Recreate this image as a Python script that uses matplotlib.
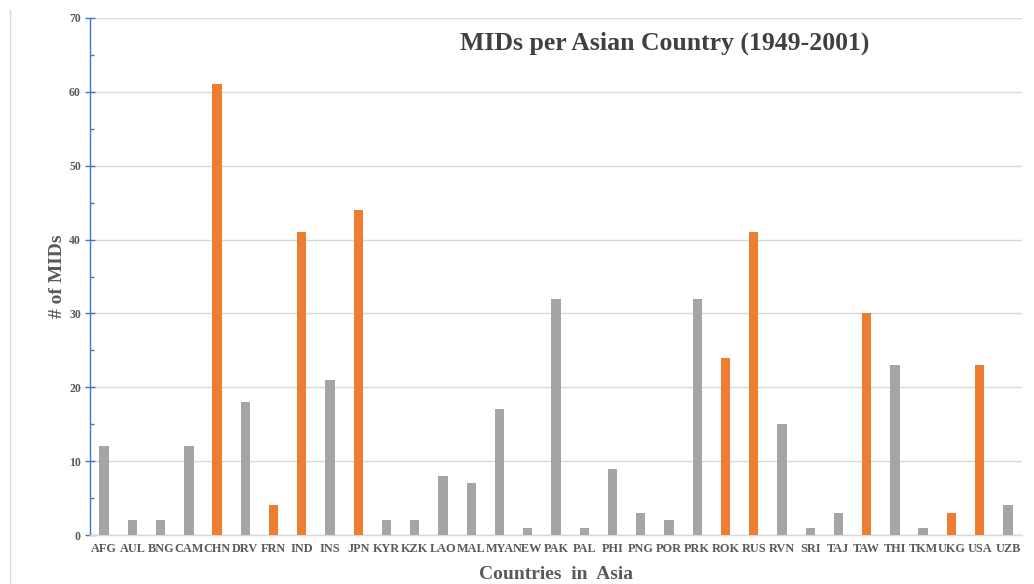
import matplotlib
matplotlib.use("Agg")
import matplotlib.pyplot as plt
from matplotlib.lines import Line2D
from matplotlib.ticker import MultipleLocator

countries = ["AFG", "AUL", "BNG", "CAM", "CHN", "DRV", "FRN", "IND", "INS", "JPN",
             "KYR", "KZK", "LAO", "MAL", "MYA", "NEW", "PAK", "PAL", "PHI", "PNG",
             "POR", "PRK", "ROK", "RUS", "RVN", "SRI", "TAJ", "TAW", "THI", "TKM",
             "UKG", "USA", "UZB"]
mids = [12, 2, 2, 12, 61, 18, 4, 41, 21, 44,
        2, 2, 8, 7, 17, 1, 32, 1, 9, 3,
        2, 32, 24, 41, 15, 1, 3, 30, 23, 1,
        3, 23, 4]
highlighted = ["CHN", "FRN", "IND", "JPN", "ROK", "RUS", "TAW", "UKG", "USA"]

GRAY = "#A5A5A5"
ORANGE = "#ED7D31"
TXT = "#595959"

plt.rcParams["font.family"] = ["Liberation Serif", "DejaVu Serif"]

fig = plt.figure(figsize=(10.34, 5.84), dpi=100)
ax = fig.add_axes([90/1034, 49/584, 932/1034, 517/584])

colors = [ORANGE if c in highlighted else GRAY for c in countries]
x = list(range(len(countries)))
ax.bar(x, mids, width=0.33, color=colors, zorder=3)

ax.set_xlim(-0.5, len(countries) - 0.5)
ax.set_ylim(0, 70)
ax.yaxis.set_major_locator(MultipleLocator(10))
ax.yaxis.set_minor_locator(MultipleLocator(5))
ax.grid(axis="y", color="#D9D9D9", linewidth=1.0, zorder=0)

for s in ["top", "right"]:
    ax.spines[s].set_visible(False)
ax.spines["left"].set_color("#4472C4")
ax.spines["left"].set_linewidth(1.0)
ax.spines["bottom"].set_color("#D9D9D9")
ax.spines["bottom"].set_linewidth(1.0)

ax.tick_params(axis="y", which="major", direction="inout", length=7, width=1,
               color="#4472C4", labelsize=8.5, labelcolor=TXT, pad=3)
ax.tick_params(axis="y", which="minor", direction="in", length=3, width=1,
               color="#4472C4")
ax.tick_params(axis="x", length=0, labelsize=8.8, labelcolor=TXT, pad=6)

ax.set_xticks(x)
ax.set_xticklabels(countries, fontweight="bold")
for lab in ax.get_yticklabels():
    lab.set_fontweight("bold")

ax.set_xlabel("Countries  in  Asia", fontsize=14, fontweight="bold", color=TXT, labelpad=8)
ax.set_ylabel("# of MIDs", fontsize=14, fontweight="bold", color=TXT, labelpad=2)

fig.text(665/1034, 1 - 43/584, "MIDs per Asian Country (1949-2001)", ha="center", va="center",
         fontsize=18.5, fontweight="bold", color="#404040")

fig.add_artist(Line2D([10/1034, 10/1034], [0, 1 - 10/584], color="#D9D9D9", linewidth=1.0,
                      transform=fig.transFigure))

fig.savefig("out.png", dpi=100, facecolor="white")
